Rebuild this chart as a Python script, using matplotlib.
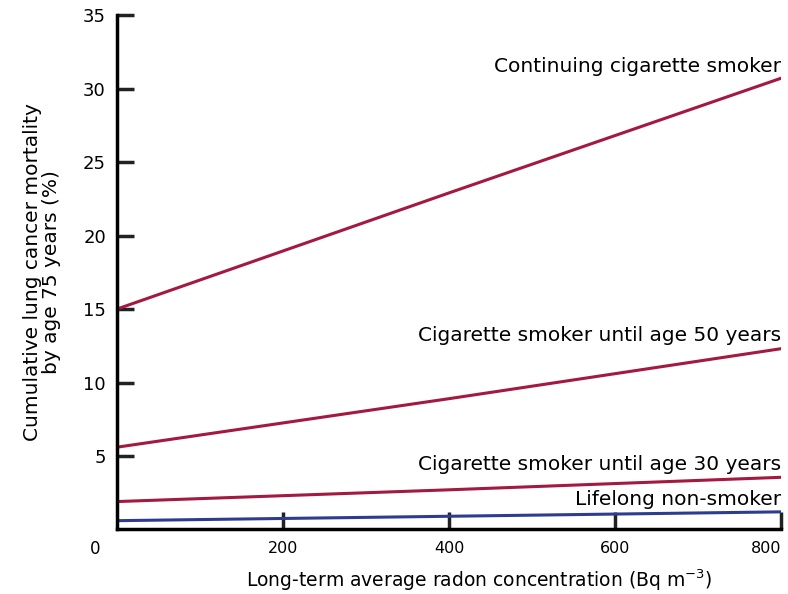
import matplotlib.pyplot as plt

# radon concentration (Bq m-3) and cumulative risk (%)
radon = [0, 400, 800]
continuing = [15.0, 22.9, 30.7]
until_50 = [5.6, 8.9, 12.3]
until_30 = [1.9, 2.7, 3.55]
non_smoker = [0.6, 0.9, 1.2]

labels = ["Continuing cigarette smoker",
          "Cigarette smoker until age 50 years",
          "Cigarette smoker until age 30 years",
          "Lifelong non-smoker"]
label_y = [31.5, 13.2, 4.45, 2.05]

red = "#A3193F"
blue = "#2E3C8F"

plt.rcParams["font.family"] = ["DejaVu Sans"]

fig = plt.figure(figsize=(7.88, 5.94), dpi=100)
ax = fig.add_axes([0.1485, 0.1086, 0.8425, 0.866])

ax.plot(radon, continuing, color=red, lw=2.2)
ax.plot(radon, until_50, color=red, lw=2.2)
ax.plot(radon, until_30, color=red, lw=2.2)
ax.plot(radon, non_smoker, color=blue, lw=2.2)

for lab, yy in zip(labels, label_y):
    ax.text(800, yy, lab, ha="right", va="center", fontsize=14.5)

ax.set_xlim(0, 800)
ax.set_ylim(0, 35)
ax.set_xticks([200, 400, 600, 800])
ax.set_yticks([5, 10, 15, 20, 25, 30, 35])
ax.tick_params(axis="both", direction="in", length=12, width=2.5,
               color="#222222")
ax.tick_params(axis="x", pad=8, labelsize=11.5)
ax.tick_params(axis="y", pad=8, labelsize=13)
ax.get_xticklabels()[-1].set_horizontalalignment("right")

ax.spines["top"].set_visible(False)
ax.spines["right"].set_visible(False)
ax.spines["left"].set_linewidth(2.5)
ax.spines["bottom"].set_linewidth(2.5)

# shared origin label
ax.text(-20, -1.3, "0", ha="right", va="center", fontsize=12)

ax.set_xlabel(r"Long-term average radon concentration (Bq m$^{-3}$)", fontsize=13.5)
ax.xaxis.set_label_coords(0.545, -0.074)
ax.set_ylabel("Cumulative lung cancer mortality\nby age 75 years (%)", fontsize=14.5,
              labelpad=16, linespacing=0.95)

fig.savefig("out.png", dpi=100)
